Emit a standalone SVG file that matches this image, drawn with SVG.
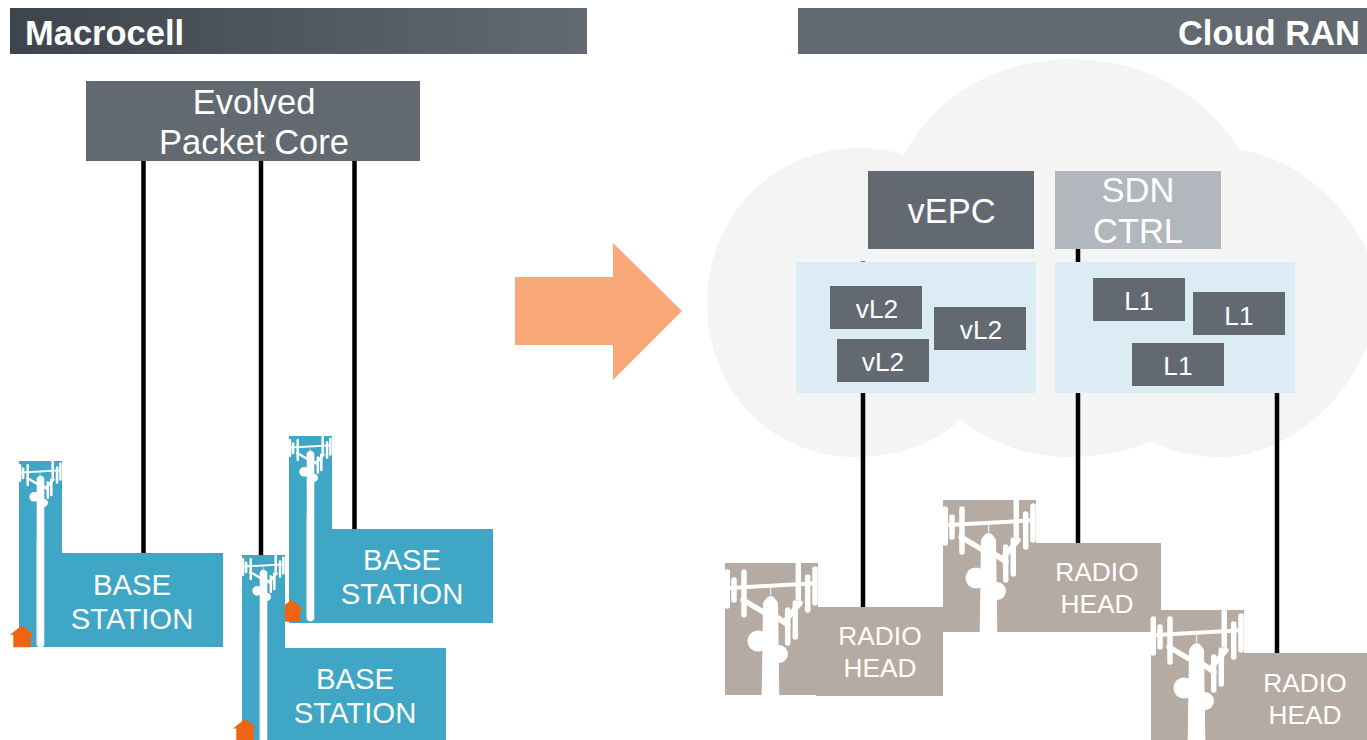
<svg xmlns="http://www.w3.org/2000/svg" width="1367" height="740" viewBox="0 0 1367 740">
<style>
text{font-family:"Liberation Sans",Arial,sans-serif;fill:#fff;text-anchor:middle}
.hd{font-size:34.500px;font-weight:bold}
.lg{font-size:34.500px}
.sm{font-size:26.300px}
.bs{font-size:29.300px}
.dark{fill:#636970}
.blue{fill:#40a6c5}
.tan{fill:#b6aba2}
.panel{fill:#dcecf5}
.house{fill:#ee6411}
.conn{stroke:#000;stroke-width:4.500;fill:none}
</style>
<defs>
<linearGradient id="hdgrad" x1="0" x2="1" y1="0" y2="0"><stop offset="0" stop-color="#3e444b"/><stop offset="1" stop-color="#636a71"/></linearGradient>
<g id="mast" fill="#fff" stroke="#fff" stroke-linecap="round">
<g fill="none" stroke-width="5.500">
<path d="M2.300 9V43M9 17V37M19 9V52M73.300 1V35M82.700 14V47M90 6V40M62.700 47V80M70.300 40V74"/>
<path d="M18 37L40 50M53 55L63 62M75 40L60 58"/>
</g>
<path d="M5 25L90 20.300" fill="none" stroke-width="4"/>
<path d="M45.700 22V32" fill="none" stroke-width="1"/>
<circle cx="33" cy="78" r="10.500" stroke="none"/>
<circle cx="54" cy="91" r="9" stroke="none"/>
</g>
<path id="house" class="house" d="M0 9.400L12 0L24 9.400H20.700V22H3.300V9.400Z"/>
</defs>
<rect width="1367" height="740" fill="#fff"/>

<path id="cloud" fill="#f4f4f4" d="M904 155C935 95 1000 59 1072 59C1145 59 1205 95 1240 150C1310 160 1367 225 1378 285C1380 375 1300 457 1219 457C1195 457 1170 452 1152 441C1128 451 1100 457 1070 457C1030 457 990 443 960 420C935 443 898 457 857 457C770 457 707 390 707 302C707 215 775 148 860 148C876 148 890 150 904 155Z"/>

<g id="connectors">
<path class="conn" d="M143.500 161V553M261 161V555M354.500 161V529"/>
<path class="conn" d="M863 261.500V607M1078 249V543M1277 393V653"/>
</g>

<g id="header-macrocell"><rect x="10" y="8" width="577" height="46" fill="url(#hdgrad)"/><text class="hd" x="25" y="45" style="text-anchor:start">Macrocell</text></g>
<g id="header-cloud-ran"><rect class="dark" x="798" y="8" width="569" height="46"/><text class="hd" x="1360" y="45" style="text-anchor:end">Cloud RAN</text></g>

<g id="epc"><rect class="dark" x="86" y="81" width="334" height="80"/><text class="lg" x="254" y="114">Evolved</text><text class="lg" x="254" y="154">Packet Core</text></g>

<g id="base-station-1">
<path class="blue" d="M19 461H62V553H223V647H19Z"/>
<use href="#mast" transform="translate(19 461) scale(.46)"/>
<path d="M36.700 478Q40.500 473 44.300 478V645Q40.500 651 36.700 645Z" fill="#fff"/>
<path d="M37 540V645" stroke="#d5dde0" stroke-width="1" fill="none"/>
<use href="#house" x="10" y="625.300"/>
<text class="bs" x="132" y="594.500">BASE</text><text class="bs" x="132" y="628.500">STATION</text>
</g>

<g id="base-station-2">
<path class="blue" d="M289 436H332V529H493V623H289Z"/>
<use href="#mast" transform="translate(289 436) scale(.46)"/>
<path d="M306.700 453Q310.500 448 314.300 453V619Q310.500 624 306.700 619Z" fill="#fff"/>
<path d="M307 515V619" stroke="#d5dde0" stroke-width="1" fill="none"/>
<use href="#house" x="279.500" y="599.700"/>
<text class="bs" x="402" y="569.500">BASE</text><text class="bs" x="402" y="603.500">STATION</text>
</g>

<g id="base-station-3">
<path class="blue" d="M242 555H285V648H446V740H242Z"/>
<use href="#mast" transform="translate(242 555) scale(.46)"/>
<path d="M259.700 572Q263.500 567 267.300 572V740H259.700Z" fill="#fff"/>
<path d="M260 634V740" stroke="#d5dde0" stroke-width="1" fill="none"/>
<use href="#house" x="233" y="719"/>
<text class="bs" x="355" y="688.500">BASE</text><text class="bs" x="355" y="722.500">STATION</text>
</g>

<polygon id="transition-arrow" fill="#f9a87a" points="515,277 613,277 613,243 682,311 613,380 613,345 515,345"/>

<g id="vepc"><rect class="dark" x="868" y="171" width="166" height="78"/><text class="lg" x="951.500" y="223">vEPC</text></g>
<g id="sdn-ctrl"><rect fill="#b1b7bc" x="1055" y="171" width="166" height="78"/><text class="lg" x="1138" y="202">SDN</text><text class="lg" x="1138" y="243">CTRL</text></g>

<g id="vl2-panel">
<rect class="panel" x="796" y="262" width="240" height="131"/>
<rect class="dark" x="830" y="286" width="92" height="43"/><text class="sm" x="877" y="318">vL2</text>
<rect class="dark" x="934" y="307" width="92" height="43"/><text class="sm" x="981" y="339">vL2</text>
<rect class="dark" x="837" y="339" width="92" height="43"/><text class="sm" x="883" y="371">vL2</text>
</g>
<g id="l1-panel">
<rect class="panel" x="1055" y="262" width="240" height="131"/>
<rect class="dark" x="1093" y="278" width="92" height="43"/><text class="sm" x="1139" y="310">L1</text>
<rect class="dark" x="1193" y="292" width="92" height="43"/><text class="sm" x="1239" y="325">L1</text>
<rect class="dark" x="1132" y="343" width="92" height="43"/><text class="sm" x="1178" y="375">L1</text>
</g>

<g id="radio-head-1">
<path class="tan" d="M725 563H818V607H943V696H816V695H725Z"/>
<g transform="translate(725 563)"><use href="#mast"/><path d="M36.700 132L38 40Q45.700 26 53 40L54.300 132Z" fill="#fff"/></g>
<text class="sm" x="880" y="645">RADIO</text><text class="sm" x="880" y="677">HEAD</text>
</g>
<g id="radio-head-2">
<path class="tan" d="M943 500H1036V543H1161V632H943Z"/>
<g transform="translate(943 500)"><use href="#mast"/><path d="M36.700 132L38 40Q45.700 26 53 40L54.300 132Z" fill="#fff"/></g>
<text class="sm" x="1097" y="581">RADIO</text><text class="sm" x="1097" y="613">HEAD</text>
</g>
<g id="radio-head-3">
<path class="tan" d="M1151 610H1244V653H1367V740H1151Z"/>
<g transform="translate(1151 610)"><use href="#mast"/><path d="M36.700 130L38 40Q45.700 26 53 40L54.300 130Z" fill="#fff"/></g>
<text class="sm" x="1305" y="692">RADIO</text><text class="sm" x="1305" y="724">HEAD</text>
</g>
</svg>
